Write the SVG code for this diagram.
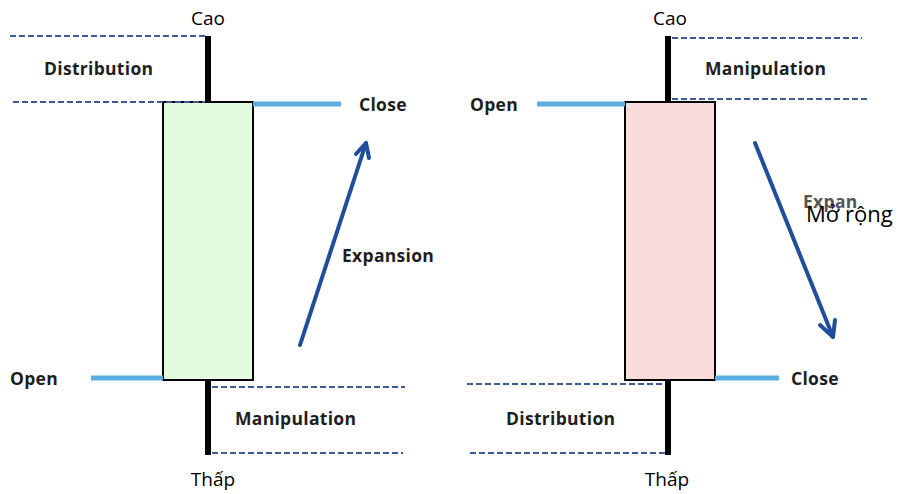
<svg xmlns="http://www.w3.org/2000/svg" width="899" height="494" viewBox="0 0 899 494">
<style>
.lbl{font-family:"Open Sans","Liberation Sans",sans-serif;font-weight:700;font-size:17.5px;fill:#1e1e1e;letter-spacing:0.3px}
.vn{font-family:"Open Sans","Liberation Sans",sans-serif;font-size:19px;fill:#000}
.dash{stroke:#3d5a94;stroke-width:2;stroke-dasharray:6,3;fill:none}
.wick{stroke:#000;stroke-width:6}
.lvl{stroke:#5aaee0;stroke-width:5}
.arr{stroke:#1f4e9a;stroke-width:4;fill:none;stroke-linecap:round;stroke-linejoin:round}
</style>
<rect width="899" height="494" fill="#fff"/>
<g id="bull-candle">
<line class="wick" x1="208" y1="36" x2="208" y2="455"/>
<rect x="163" y="102" width="90" height="278" fill="#e2fbdf" stroke="#000" stroke-width="2"/>
</g>
<g id="bull-levels">
<line class="dash" x1="10" y1="36" x2="205" y2="36"/>
<line class="dash" x1="13" y1="102" x2="205" y2="102"/>
<line class="dash" x1="212" y1="387" x2="405" y2="387"/>
<line class="dash" x1="212" y1="453" x2="403" y2="453"/>
<line class="lvl" x1="253" y1="104" x2="341" y2="104"/>
<line class="lvl" x1="91" y1="378" x2="163" y2="378"/>
</g>
<g id="bull-labels">
<text class="vn" x="208" y="25" text-anchor="middle">Cao</text>
<text class="vn" x="213" y="486" text-anchor="middle">Thấp</text>
<text class="lbl" x="44" y="75">Distribution</text>
<text class="lbl" x="359" y="111">Close</text>
<text class="lbl" x="10" y="385">Open</text>
<text class="lbl" x="342" y="262">Expansion</text>
<text class="lbl" x="235" y="425">Manipulation</text>
</g>
<g id="bear-candle">
<line class="wick" x1="668" y1="36" x2="668" y2="455"/>
<rect x="625" y="102" width="90" height="278" fill="#f8dcdc" stroke="#000" stroke-width="2"/>
</g>
<g id="bear-levels">
<line class="dash" x1="672" y1="38" x2="862" y2="38"/>
<line class="dash" x1="672" y1="99" x2="867" y2="99"/>
<line class="dash" x1="467" y1="384" x2="665" y2="384"/>
<line class="dash" x1="470" y1="453" x2="665" y2="453"/>
<line class="lvl" x1="537" y1="104" x2="625" y2="104"/>
<line class="lvl" x1="715" y1="378" x2="779" y2="378"/>
</g>
<g id="bear-labels">
<text class="vn" x="670" y="25" text-anchor="middle">Cao</text>
<text class="vn" x="667" y="486" text-anchor="middle">Thấp</text>
<text class="lbl" x="705" y="75">Manipulation</text>
<text class="lbl" x="470" y="111">Open</text>
<text class="lbl" x="791" y="385">Close</text>
<text class="lbl" x="506" y="425">Distribution</text>
<text class="lbl" x="803" y="208" style="fill:#555">Expan</text>
<text class="vn" x="806" y="222" style="font-size:22px">Mở rộng</text>
</g>
<g id="connectors">
<path class="arr" d="M300,345 L366,143"/>
<path class="arr" d="M356,154 L366,143 L369,158"/>
<path class="arr" d="M755,143 L833,337"/>
<path class="arr" d="M820,325 L833,337 L835,320"/>
</g>
</svg>
